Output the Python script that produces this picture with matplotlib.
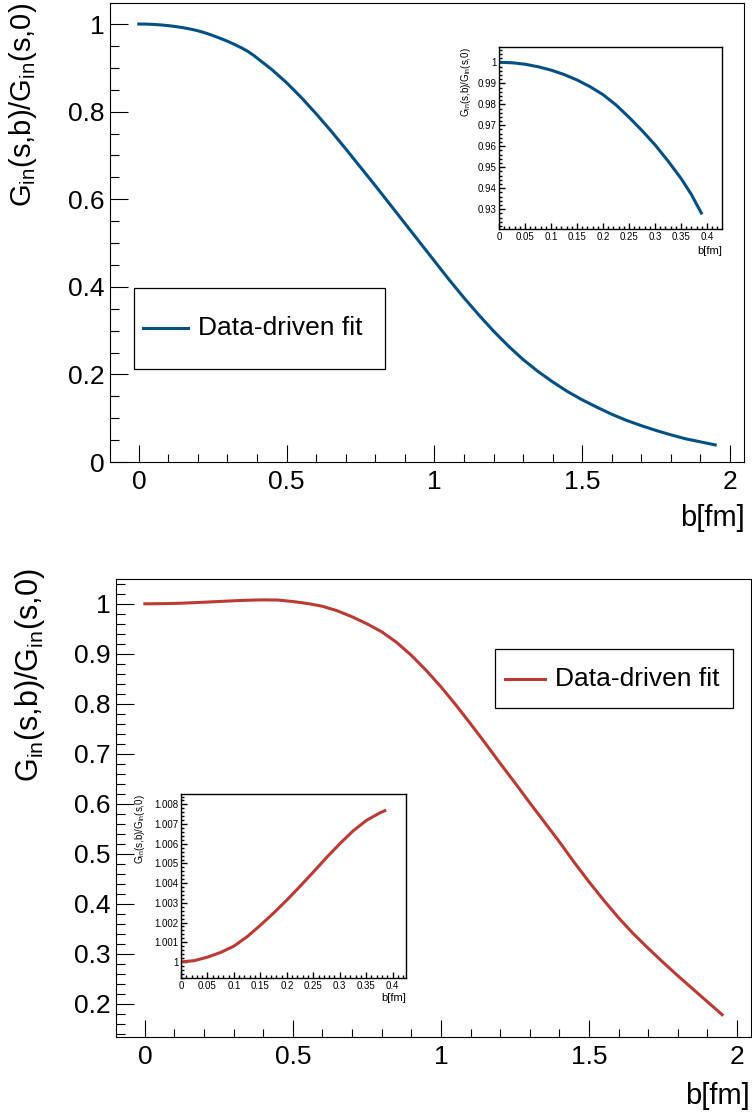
import matplotlib
matplotlib.use("Agg")
import matplotlib.pyplot as plt
from matplotlib.ticker import MultipleLocator, FuncFormatter
from matplotlib.patches import Rectangle
from matplotlib.lines import Line2D

plt.rcParams['font.family'] = ['Liberation Sans', 'DejaVu Sans']
plt.rcParams['mathtext.fontset'] = 'custom'
plt.rcParams['mathtext.rm'] = 'Liberation Sans'
plt.rcParams['mathtext.it'] = 'Liberation Sans:italic'

# ---------------- data ----------------
b_top = [0.0, 0.025, 0.05, 0.075, 0.10, 0.125, 0.15, 0.175, 0.20, 0.225, 0.25, 0.275,
         0.30, 0.325, 0.35, 0.37, 0.389,
         0.45, 0.5, 0.55, 0.6, 0.65, 0.7, 0.75, 0.8, 0.85, 0.9, 0.95, 1.0, 1.05, 1.1,
         1.15, 1.2, 1.25, 1.3, 1.35, 1.4, 1.45, 1.5, 1.55, 1.6, 1.65, 1.7, 1.75, 1.8,
         1.85, 1.9, 1.95]
g_top = [1.0, 0.9998, 0.9991, 0.9979, 0.9963, 0.9942, 0.9916, 0.9884, 0.9846, 0.9797,
         0.9738, 0.9675, 0.9607, 0.9530, 0.9447, 0.9370, 0.9282,
         0.896, 0.866, 0.832, 0.795, 0.756, 0.715, 0.673, 0.631, 0.588, 0.545, 0.502,
         0.459, 0.416, 0.375, 0.336, 0.299, 0.265, 0.234, 0.207, 0.183, 0.161, 0.142,
         0.125, 0.109, 0.095, 0.083, 0.072, 0.062, 0.053, 0.046, 0.039]

b_bot = [0.0, 0.025, 0.05, 0.075, 0.10, 0.125, 0.15, 0.175, 0.20, 0.225, 0.25, 0.275,
         0.30, 0.325, 0.35, 0.375, 0.385,
         0.4, 0.45, 0.5, 0.55, 0.6, 0.65, 0.7, 0.75, 0.8, 0.85, 0.9, 0.95, 1.0, 1.05, 1.1,
         1.15, 1.2, 1.25, 1.3, 1.35, 1.4, 1.45, 1.5, 1.55, 1.6, 1.65, 1.7, 1.75, 1.8,
         1.85, 1.9, 1.95]
g_bot = [1.0, 1.00006, 1.00024, 1.00048, 1.0008, 1.00128, 1.00186, 1.00248, 1.00314,
         1.00384, 1.00456, 1.0053, 1.00600, 1.00665, 1.00718, 1.00756, 1.00768,
         1.0078, 1.0075, 1.0045, 1.0005, 0.995, 0.986, 0.974, 0.960, 0.944, 0.923, 0.897,
         0.867, 0.834, 0.798, 0.760, 0.721, 0.681, 0.642, 0.602, 0.563, 0.524, 0.483,
         0.444, 0.407, 0.372, 0.340, 0.311, 0.283, 0.256, 0.230, 0.204, 0.178]

inset_bmax = 0.39
legend_label = "Data-driven fit"
ylabel = r"G$_{\mathrm{in}}$(s,b)/G$_{\mathrm{in}}$(s,0)"
xlabel = "b[fm]"

blue = "#035085"
red = "#bb3a33"

W, H = 752, 1115
fig = plt.figure(figsize=(W / 100, H / 100), dpi=100)


def rect(l, t, r, b):
    return [l / W, 1 - b / H, (r - l) / W, (b - t) / H]


def fx(px):
    return px / W


def fy(py):
    return 1 - py / H


def fmt(v, pos):
    s = "%.4f" % v
    s = s.rstrip('0').rstrip('.')
    if s == "-0":
        s = "0"
    return s


def style_axes(ax, xmaj, xmin, ymaj, ymin, fs, ylen, xlen, lw=0.8):
    ax.xaxis.set_major_locator(MultipleLocator(xmaj))
    ax.xaxis.set_minor_locator(MultipleLocator(xmin))
    ax.yaxis.set_major_locator(MultipleLocator(ymaj))
    ax.yaxis.set_minor_locator(MultipleLocator(ymin))
    ax.xaxis.set_major_formatter(FuncFormatter(fmt))
    ax.yaxis.set_major_formatter(FuncFormatter(fmt))
    ax.tick_params(axis='both', which='both', direction='in', top=False, right=False,
                   labelsize=fs, width=lw)
    ax.tick_params(axis='y', which='major', length=ylen)
    ax.tick_params(axis='y', which='minor', length=ylen / 2)
    ax.tick_params(axis='x', which='major', length=xlen)
    ax.tick_params(axis='x', which='minor', length=xlen / 2)
    for sp in ax.spines.values():
        sp.set_linewidth(lw)


def draw_legend(l, t, r, b, x0, x1, xt, color):
    fig.add_artist(Rectangle((fx(l), fy(b)), (r - l) / W, (b - t) / H,
                             transform=fig.transFigure, fill=False, lw=0.9,
                             edgecolor='black'))
    yc = (t + b) / 2
    fig.add_artist(Line2D([fx(x0), fx(x1)], [fy(yc), fy(yc)], transform=fig.transFigure,
                          color=color, lw=2.2))
    fig.text(fx(xt), fy(yc), legend_label, fontsize=19, va='center', ha='left')


# ---------------- top panel ----------------
ax1 = fig.add_axes(rect(110, 3, 744, 462))
ax1.plot(b_top, g_top, color=blue, lw=2.2)
ax1.set_xlim(-0.0975, 2.0475)
ax1.set_ylim(0, 1.048)
style_axes(ax1, 0.5, 0.1, 0.2, 0.05, 19, 13, 12)
ax1.tick_params(axis='y', pad=4)
ax1.tick_params(axis='x', pad=6)
fig.text(fx(23), fy(3), ylabel, rotation=90, ha='center', va='top', fontsize=21)
fig.text(fx(745), fy(518), xlabel, ha='right', va='center', fontsize=21)
draw_legend(134, 288, 385, 369, 143, 188, 198, blue)

ins1 = fig.add_axes(rect(499, 47, 722, 229))
bi = [b for b in b_top if b <= inset_bmax]
gi = g_top[:len(bi)]
ins1.plot(bi, gi, color=blue, lw=2.2)
ins1.set_xlim(0, 0.4288)
ins1.set_ylim(0.9206, 1.0073)
style_axes(ins1, 0.05, 0.01, 0.01, 0.002, 7, 4, 4, lw=1.0)
ins1.tick_params(axis='both', pad=2)
fig.text(fx(466), fy(47), ylabel, rotation=90, ha='center', va='top', fontsize=7)
fig.text(fx(722), fy(251), xlabel, ha='right', va='center', fontsize=8)

# ---------------- bottom panel ----------------
ax2 = fig.add_axes(rect(116, 579, 751, 1037))
ax2.plot(b_bot, g_bot, color=red, lw=2.2)
ax2.set_xlim(-0.0975, 2.0475)
ax2.set_ylim(0.1334, 1.0496)
style_axes(ax2, 0.5, 0.1, 0.1, 0.02, 19, 13, 12)
ax2.tick_params(axis='y', pad=4)
ax2.tick_params(axis='x', pad=6)
fig.text(fx(30), fy(568), ylabel, rotation=90, ha='center', va='top', fontsize=22)
fig.text(fx(750), fy(1096), xlabel, ha='right', va='center', fontsize=21)
draw_legend(495, 649, 733, 708, 505, 545, 555, red)

ins2 = fig.add_axes(rect(181, 794, 406, 978))
bi2 = [b for b in b_bot if b <= inset_bmax]
gi2 = g_bot[:len(bi2)]
ins2.plot(bi2, gi2, color=red, lw=2.2)
ins2.set_xlim(0, 0.4252)
ins2.set_ylim(0.99918, 1.00853)
style_axes(ins2, 0.05, 0.01, 0.001, 0.0002, 7, 4, 4, lw=1.0)
ins2.tick_params(axis='both', pad=2)
fig.text(fx(140), fy(794), ylabel, rotation=90, ha='center', va='top', fontsize=7)
fig.text(fx(406), fy(998), xlabel, ha='right', va='center', fontsize=8)

fig.savefig("out.png", dpi=100)
